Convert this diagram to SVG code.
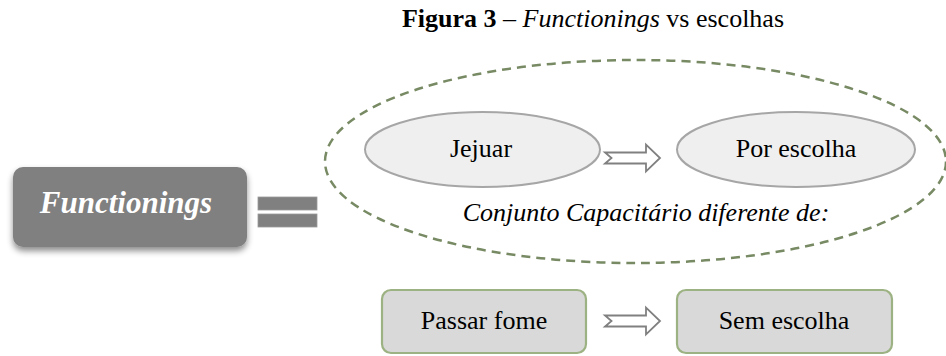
<svg xmlns="http://www.w3.org/2000/svg" width="946" height="356" viewBox="0 0 946 356">
<defs>
<style>
text{font-family:"Liberation Serif","Times New Roman",serif;fill:#000}
.lbl{font-size:26px}
.oval{fill:#efefef;stroke:#a6a6a6;stroke-width:2}
.box{fill:#d9d9d9;stroke:#9db283;stroke-width:2.2}
.arrow{fill:#fff;stroke:#808080;stroke-width:1.8;stroke-linejoin:miter}
.bar{fill:#808080;stroke:#9a9a9a;stroke-width:0.8}
</style>
<filter id="shadow" x="-10%" y="-20%" width="120%" height="150%">
<feDropShadow dx="0" dy="4" stdDeviation="3" flood-color="#000" flood-opacity="0.45"/>
</filter>
<path id="notched" d="M0,-5.5 L41,-5.5 L41,-13.5 L55,0 L41,13.5 L41,5.5 L0,5.5 L6.5,0 Z"/>
</defs>
<rect width="946" height="356" fill="#fff"/>

<g id="title">
<text x="593" y="27" text-anchor="middle" font-size="26"><tspan font-weight="bold">Figura 3</tspan> – <tspan font-style="italic">Functionings</tspan> vs escolhas</text>
</g>

<g id="capability-set">
<ellipse cx="635.5" cy="161.5" rx="310.5" ry="101.5" fill="none" stroke="#778a63" stroke-width="2.5" stroke-dasharray="9 6"/>
<text class="lbl" x="646" y="221" text-anchor="middle" font-style="italic">Conjunto Capacitário diferente de:</text>
</g>

<g id="functionings">
<rect x="13" y="167" width="234" height="80" rx="10" fill="#808080" filter="url(#shadow)"/>
<text x="126" y="213" text-anchor="middle" font-size="31" font-weight="bold" font-style="italic" style="fill:#fff">Functionings</text>
</g>

<g id="equals">
<rect class="bar" x="258" y="197" width="59" height="13"/>
<rect class="bar" x="258" y="214" width="59" height="13"/>
</g>

<g id="jejuar">
<ellipse class="oval" cx="482.5" cy="149.5" rx="117.5" ry="37.5"/>
<text class="lbl" x="481" y="157" text-anchor="middle">Jejuar</text>
</g>

<g id="por-escolha">
<ellipse class="oval" cx="796" cy="149.5" rx="119" ry="37.5"/>
<text class="lbl" x="796" y="157" text-anchor="middle">Por escolha</text>
</g>

<g id="passar-fome">
<rect class="box" x="382" y="290" width="204" height="63" rx="9"/>
<text class="lbl" x="484" y="328.5" text-anchor="middle">Passar fome</text>
</g>

<g id="sem-escolha">
<rect class="box" x="677" y="290" width="215" height="63" rx="9"/>
<text class="lbl" x="784" y="328.5" text-anchor="middle">Sem escolha</text>
</g>

<g id="connectors">
<use href="#notched" class="arrow" x="605" y="158"/>
<use href="#notched" class="arrow" x="605" y="321"/>
</g>
</svg>
